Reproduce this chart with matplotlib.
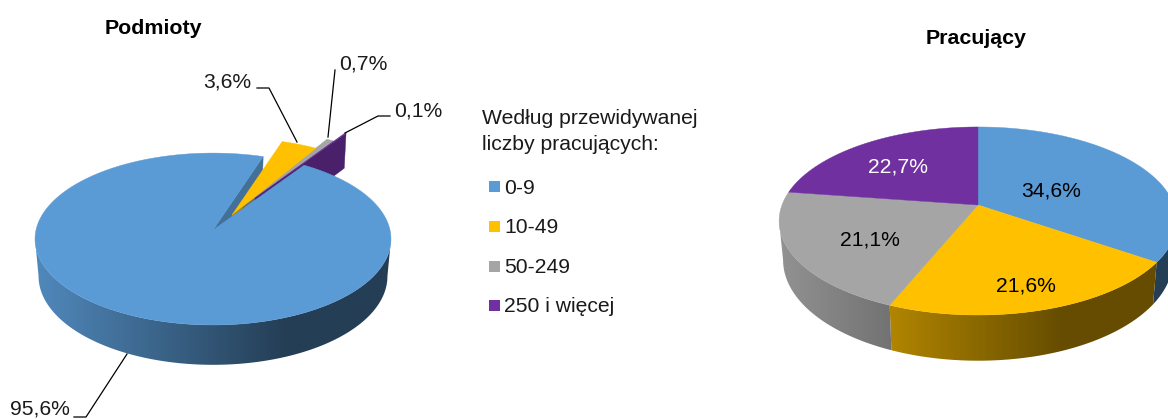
import matplotlib
matplotlib.use('Agg')
import matplotlib.pyplot as plt
from matplotlib.patches import Polygon, Rectangle
import numpy as np

plt.rcParams['font.family'] = ['Liberation Sans', 'DejaVu Sans']

# Data
categories = ['0-9', '10-49', '50-249', '250 i więcej']
podmioty = [95.6, 3.6, 0.7, 0.1]
pracujacy = [34.6, 21.6, 21.1, 22.7]
colors = ['#5B9BD5', '#FFC000', '#A5A5A5', '#7030A0']

# Pie geometry in pixels
left_pie = dict(cx=213, cy=230, A=177, B=85, p=0.105, dy=37, sx=0.98, sy=1.03, xmin=34, xmax=390)
right_pie = dict(cx=978, cy=205, A=196, B=91.3, p=0.17, dy=38, sx=0.98, sy=1.07, xmin=779, xmax=1177)


def project(pie, theta, bottom=False, offset=(0, 0)):
    # theta in degrees clockwise from 12 o'clock, tilted circle with perspective
    t = np.radians(theta)
    u, v = np.sin(t), np.cos(t)
    w = 1 + pie['p'] * v
    x = pie['A'] * u / w
    y = -pie['B'] * v / w
    if bottom:
        return pie['cx'] + offset[0] + x * pie['sx'], pie['cy'] + offset[1] + pie['dy'] + y * pie['sy']
    return pie['cx'] + offset[0] + x, pie['cy'] + offset[1] + y


def draw_top(ax, pie, a0, a1, color, offset=(0, 0), z=5):
    th = np.linspace(a0, a1, max(int(abs(a1 - a0)), 2) + 1)
    xs, ys = project(pie, th, offset=offset)
    apex = (pie['cx'] + offset[0], pie['cy'] + offset[1])
    pts = [apex] + list(zip(xs, ys))
    ax.add_patch(Polygon(pts, closed=True, fc=color, ec=color, lw=0.3, zorder=z))


def draw_rim(ax, pie, a0, a1, color, z=2):
    # side wall: horizontal gradient image clipped to the wall outline
    # cut at the left and right extremes of the ellipse, the back of the wall is hidden
    ext = np.degrees(np.arccos(-pie['p']))
    a0, a1 = max(a0, ext), min(a1, 360 - ext)
    if a0 >= a1:
        return
    th = np.linspace(a0, a1, int((a1 - a0) * 2) + 2)
    xt, yt = project(pie, th)
    xb, yb = project(pie, th, bottom=True)
    pts = list(zip(xt, yt)) + list(zip(xb[::-1], yb[::-1]))
    f = np.linspace(0, 1, 400)
    m = np.interp(f, [0, 0.7], [0.9, 0.4])
    img = np.outer(m, matplotlib.colors.to_rgb(color)).reshape(1, 400, 3)
    im = ax.imshow(img, extent=[pie['xmin'] - 8, pie['xmax'] + 8, 419, 0], aspect='auto', zorder=z, interpolation='bilinear')
    clip = Polygon(pts, closed=True, transform=ax.transData)
    im.set_clip_path(clip)


def draw_face(ax, pie, theta, color, m, offset=(0, 0), z=3):
    # radial inner face of a slice
    c = tuple(np.array(matplotlib.colors.to_rgb(color)) * m)
    xt, yt = project(pie, theta, offset=offset)
    xb, yb = project(pie, theta, bottom=True, offset=offset)
    ax0 = pie['cx'] + offset[0]
    ay0 = pie['cy'] + offset[1]
    pts = [(ax0, ay0), (xt, yt), (xb, yb), (ax0, ay0 + pie['dy'])]
    ax.add_patch(Polygon(pts, closed=True, fc=c, ec=c, lw=0.3, zorder=z))


fig = plt.figure(figsize=(11.68, 4.19), dpi=100)
ax = fig.add_axes([0, 0, 1, 1])

# Left pie: small slices pulled out of the main one
start = 34.0
explode = [(0, 0), (19, -15), (30, -24), (42, -32)]
edges = start + np.cumsum([0] + [v * 3.6 for v in podmioty])

draw_rim(ax, left_pie, edges[0], edges[1], colors[0], z=2)
draw_face(ax, left_pie, edges[1], colors[0], 0.72, z=3)
draw_face(ax, left_pie, edges[2], colors[1], 0.66, offset=explode[1], z=4)
draw_face(ax, left_pie, edges[3], colors[2], 0.66, offset=explode[2], z=4.1)
draw_face(ax, left_pie, edges[4], colors[3], 0.66, offset=explode[3], z=4.2)
draw_top(ax, left_pie, edges[2], edges[3], colors[2], offset=explode[2], z=5)
draw_top(ax, left_pie, edges[3], edges[4], colors[3], offset=explode[3], z=5.1)
draw_top(ax, left_pie, edges[1], edges[2], colors[1], offset=explode[1], z=5.2)
draw_top(ax, left_pie, edges[0], edges[1], colors[0], z=6)

# Right pie
edges_r = np.cumsum([0] + [v * 3.6 for v in pracujacy])
for i in range(len(pracujacy)):
    draw_rim(ax, right_pie, edges_r[i], edges_r[i + 1], colors[i], z=2)
for i in range(len(pracujacy)):
    draw_top(ax, right_pie, edges_r[i], edges_r[i + 1], colors[i], z=5)

ax.set_xlim(0, 1168)
ax.set_ylim(419, 0)
ax.axis('off')

# Titles
ax.text(153, 28.5, 'Podmioty', fontsize=15.4, fontweight='bold', ha='center', va='center', zorder=10)
ax.text(976, 38.5, 'Pracujący', fontsize=15.4, fontweight='bold', ha='center', va='center', zorder=10)


def fmt(v):
    return f'{v:.1f}%'.replace('.', ',')


# Labels with leader lines on the left pie
fs = 15.2
ax.text(251, 82, fmt(podmioty[1]), fontsize=fs, ha='right', va='center', color='#1a1a1a', zorder=10)
ax.text(339, 64, fmt(podmioty[2]), fontsize=fs, ha='left', va='center', color='#1a1a1a', zorder=10)
ax.text(394, 111, fmt(podmioty[3]), fontsize=fs, ha='left', va='center', color='#1a1a1a', zorder=10)
ax.text(10, 408.5, fmt(podmioty[0]), fontsize=fs, ha='left', va='center', color='#1a1a1a', zorder=10)
ax.plot([257, 269, 297], [88, 88, 142], color='black', lw=0.9, zorder=9)
ax.plot([335, 328], [70, 137], color='black', lw=0.9, zorder=9)
ax.plot([390, 378, 345], [116, 116, 133], color='black', lw=0.9, zorder=9)
ax.plot([74, 86, 127], [417, 417, 354], color='black', lw=0.9, zorder=9)

# Labels on the right pie
ax.text(1051, 191, fmt(pracujacy[0]), fontsize=fs, ha='center', va='center', color='black', zorder=10)
ax.text(1026, 286, fmt(pracujacy[1]), fontsize=fs, ha='center', va='center', color='black', zorder=10)
ax.text(870, 240, fmt(pracujacy[2]), fontsize=fs, ha='center', va='center', color='black', zorder=10)
ax.text(898, 167, fmt(pracujacy[3]), fontsize=fs, ha='center', va='center', color='white', zorder=10)

# Legend
ax.text(482, 118, 'Według przewidywanej', fontsize=fs, ha='left', va='center', color='#1a1a1a')
ax.text(482, 144, 'liczby pracujących:', fontsize=fs, ha='left', va='center', color='#1a1a1a')
legend_y = [187, 226, 266, 305]
for cat, col, y in zip(categories, colors, legend_y):
    ax.add_patch(Rectangle((489, y - 5.5), 11, 11, fc=col, ec='none'))
    ax.text(504, y + 1, cat, fontsize=fs, ha='left', va='center', color='#1a1a1a')

fig.savefig('out.png', dpi=100)
